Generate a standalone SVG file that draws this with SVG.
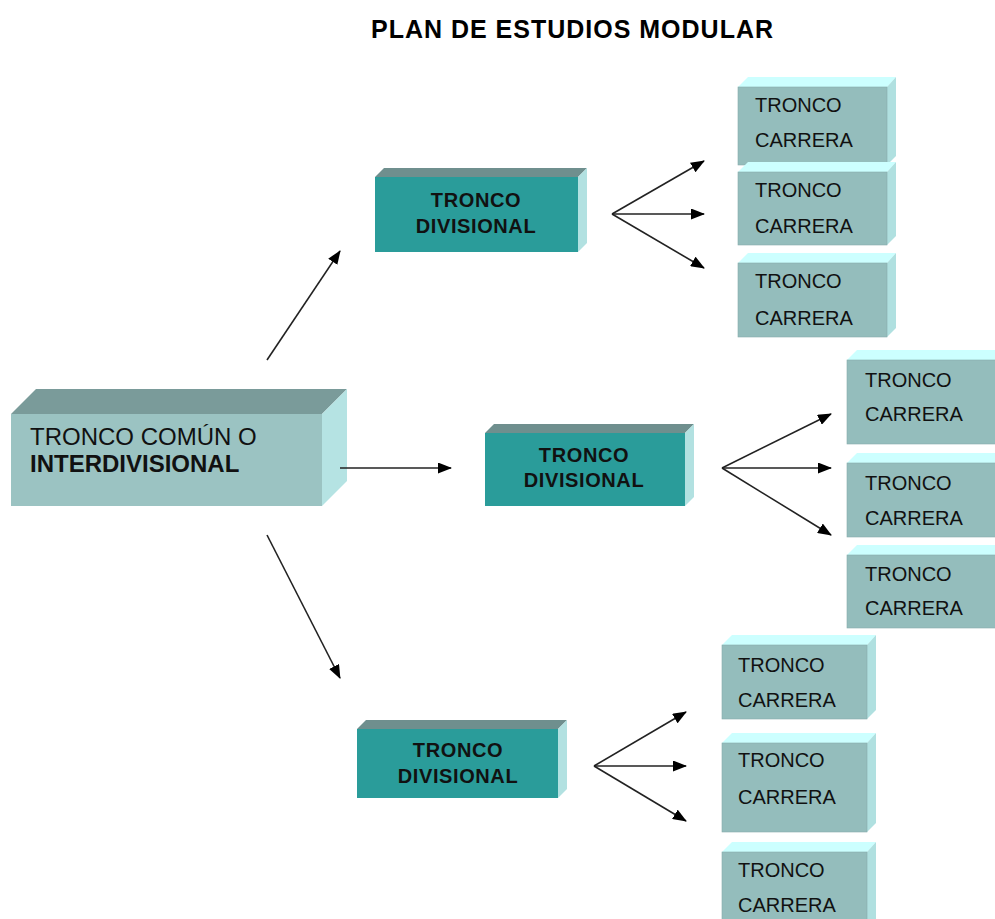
<svg xmlns="http://www.w3.org/2000/svg" width="995" height="919" viewBox="0 0 995 919">
<style>
.bg{fill:#ffffff}
.mf{fill:#9BC3C2}.mt{fill:#7A9B9A}.ms{fill:#B5E3E3}
.df{fill:#2A9C9A}.dt{fill:#6F8F8E}.ds{fill:#B2E1E1}
.cf{fill:#94BDBC}.ct{fill:#CCFFFF}.cs{fill:#B0E0E0}
.edge{stroke:#86ABAA;stroke-width:0.6}
.title{font-family:"Liberation Sans",Arial,sans-serif;font-weight:bold;font-size:25px;fill:#000}
.main{font-family:"Liberation Sans",Arial,sans-serif;font-size:24px;fill:#111}
.div{font-family:"Liberation Sans",Arial,sans-serif;font-weight:bold;font-size:20px;letter-spacing:0.6px;fill:#111;text-anchor:middle}
.car{font-family:"Liberation Sans",Arial,sans-serif;font-size:20px;fill:#111}
.conn line{stroke:#222;stroke-width:1.6;marker-end:url(#ah)}
</style>
<defs>
<marker id="ah" markerUnits="userSpaceOnUse" markerWidth="14" markerHeight="11" refX="13" refY="5.5" orient="auto">
<path d="M0,0 L14,5.5 L0,11 z" fill="#000"/>
</marker>
</defs>
<rect class="bg" x="0" y="0" width="995" height="919"/>
<text class="title" x="572" y="38" text-anchor="middle" textLength="402" lengthAdjust="spacing">PLAN DE ESTUDIOS MODULAR</text>

<g id="tronco-comun">
<polygon class="mt" points="11,414 36,389 347,389 322,414"/>
<polygon class="ms" points="322,414 347,389 347,481 322,506"/>
<rect class="mf" x="11" y="414" width="311" height="92"/>
<text class="main" x="30" y="445">TRONCO COMÚN O</text>
<text class="main" x="30" y="472" font-weight="bold">INTERDIVISIONAL</text>
</g>

<g id="divisional-1">
<polygon class="dt" points="375,177 384,168 587,168 578,177"/>
<polygon class="ds" points="578,177 587,168 587,243 578,252"/>
<rect class="df" x="375" y="177" width="203" height="75"/>
<text class="div" x="476" y="207">TRONCO</text>
<text class="div" x="476" y="233">DIVISIONAL</text>
</g>

<g id="divisional-2">
<polygon class="dt" points="485,433 494,424 694,424 685,433"/>
<polygon class="ds" points="685,433 694,424 694,497 685,506"/>
<rect class="df" x="485" y="433" width="200" height="73"/>
<text class="div" x="584" y="462">TRONCO</text>
<text class="div" x="584" y="487">DIVISIONAL</text>
</g>

<g id="divisional-3">
<polygon class="dt" points="357,729 366,720 567,720 558,729"/>
<polygon class="ds" points="558,729 567,720 567,789 558,798"/>
<rect class="df" x="357" y="729" width="201" height="69"/>
<text class="div" x="458" y="757">TRONCO</text>
<text class="div" x="458" y="783">DIVISIONAL</text>
</g>

<g id="carrera-1a">
<polygon class="ct" points="738,87 748,77 896,77 887,87"/>
<polygon class="cs" points="887,87 896,77 896,156 887,165"/>
<rect class="cf edge" x="738" y="87" width="149" height="78"/>
<text class="car" x="755" y="112">TRONCO</text>
<text class="car" x="755" y="147">CARRERA</text>
</g>
<g id="carrera-1b">
<polygon class="ct" points="738,172 748,162 896,162 887,172"/>
<polygon class="cs" points="887,172 896,162 896,236 887,245"/>
<rect class="cf edge" x="738" y="172" width="149" height="73"/>
<text class="car" x="755" y="197">TRONCO</text>
<text class="car" x="755" y="233">CARRERA</text>
</g>
<g id="carrera-1c">
<polygon class="ct" points="738,263 748,253 896,253 887,263"/>
<polygon class="cs" points="887,263 896,253 896,328 887,337"/>
<rect class="cf edge" x="738" y="263" width="149" height="74"/>
<text class="car" x="755" y="288">TRONCO</text>
<text class="car" x="755" y="325">CARRERA</text>
</g>

<g id="carrera-2a">
<polygon class="ct" points="847,360 857,350 1005,350 996,360"/>
<rect class="cf edge" x="847" y="360" width="160" height="84"/>
<text class="car" x="865" y="387">TRONCO</text>
<text class="car" x="865" y="421">CARRERA</text>
</g>
<g id="carrera-2b">
<polygon class="ct" points="847,463 857,453 1005,453 996,463"/>
<rect class="cf edge" x="847" y="463" width="160" height="74"/>
<text class="car" x="865" y="490">TRONCO</text>
<text class="car" x="865" y="525">CARRERA</text>
</g>
<g id="carrera-2c">
<polygon class="ct" points="847,555 857,545 1005,545 996,555"/>
<rect class="cf edge" x="847" y="555" width="160" height="73"/>
<text class="car" x="865" y="581">TRONCO</text>
<text class="car" x="865" y="615">CARRERA</text>
</g>

<g id="carrera-3a">
<polygon class="ct" points="722,645 732,635 876,635 867,645"/>
<polygon class="cs" points="867,645 876,635 876,710 867,719"/>
<rect class="cf edge" x="722" y="645" width="145" height="74"/>
<text class="car" x="738" y="672">TRONCO</text>
<text class="car" x="738" y="707">CARRERA</text>
</g>
<g id="carrera-3b">
<polygon class="ct" points="722,743 732,733 876,733 867,743"/>
<polygon class="cs" points="867,743 876,733 876,823 867,832"/>
<rect class="cf edge" x="722" y="743" width="145" height="89"/>
<text class="car" x="738" y="767">TRONCO</text>
<text class="car" x="738" y="804">CARRERA</text>
</g>
<g id="carrera-3c">
<polygon class="ct" points="722,852 732,842 876,842 867,852"/>
<polygon class="cs" points="867,852 876,842 876,925 867,935"/>
<rect class="cf edge" x="722" y="852" width="145" height="83"/>
<text class="car" x="738" y="877">TRONCO</text>
<text class="car" x="738" y="912">CARRERA</text>
</g>

<g id="connectors" class="conn">
<line x1="267" y1="360" x2="340" y2="251"/>
<line x1="340" y1="468" x2="451" y2="468"/>
<line x1="267" y1="535" x2="340" y2="678"/>
<line x1="612" y1="214" x2="704" y2="161"/>
<line x1="612" y1="214" x2="704" y2="214"/>
<line x1="612" y1="214" x2="704" y2="268"/>
<line x1="722" y1="468" x2="831" y2="414"/>
<line x1="722" y1="468" x2="831" y2="468"/>
<line x1="722" y1="468" x2="831" y2="535"/>
<line x1="594" y1="766" x2="686" y2="712"/>
<line x1="594" y1="766" x2="686" y2="766"/>
<line x1="594" y1="766" x2="686" y2="821"/>
</g>
</svg>
